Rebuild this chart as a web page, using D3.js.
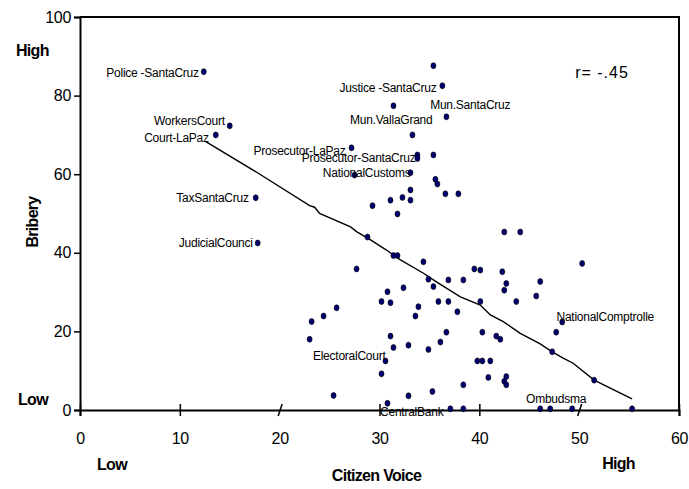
<!DOCTYPE html>
<html>
  <head>
    <meta charset="utf-8">
    <title>Bribery vs Citizen Voice</title>
    <script src="https://d3js.org/d3.v7.min.js"></script>
    <style>
     body { margin: 0; background: #fff; }
     svg { font-family: "Liberation Sans", Arial, sans-serif; }
     .tick text { font-size: 16px; fill: #000; letter-spacing: -0.3px; }
     .axis path, .axis line { stroke: #000; }
     .pt-label { font-size: 12px; letter-spacing: -0.25px; }
     .bold { font-weight: bold; font-size: 16px; letter-spacing: -0.7px; }
    </style>
  </head>
  <body>
    <svg id="chart"></svg>
    <script>
     // agencies: citizen voice (x) vs bribery (y)
     var voice = [12.4, 15.0, 13.6, 17.6, 17.8, 35.4, 36.3, 36.7, 31.4, 33.3,
                  27.2, 33.8, 33.8, 35.4, 27.5, 33.1, 35.6, 35.8, 36.6, 37.9,
                  33.1, 33.1, 32.3, 31.1, 29.3, 31.8, 28.8, 27.7, 31.4, 31.8,
                  34.4, 34.9, 35.4, 36.9, 38.4, 39.5, 40.1, 42.3, 42.5, 44.1,
                  42.7, 42.5, 46.1, 45.7, 43.7, 40.1, 37.8, 36.9, 35.9, 32.4,
                  30.8, 30.2, 31.1, 33.9, 33.6, 25.7, 24.4, 23.2, 23.0, 31.1,
                  31.4, 32.9, 34.9, 36.1, 36.7, 40.3, 41.7, 42.1, 30.6, 39.8,
                  40.3, 41.1, 30.2, 40.9, 42.7, 42.5, 42.7, 38.4, 35.3, 32.9,
                  25.4, 30.8, 37.1, 38.4, 46.1, 47.1, 49.3, 55.3, 50.3, 48.3,
                  47.7, 47.3, 51.5];
     var bribery = [86.1, 72.3, 70.0, 54.0, 42.5, 87.6, 82.5, 74.6, 77.4, 70.0,
                    66.7, 64.9, 64.0, 64.9, 59.8, 60.4, 58.7, 57.5, 55.0, 55.0,
                    56.0, 53.4, 54.1, 53.4, 52.0, 49.9, 44.0, 35.9, 39.3, 39.3,
                    37.7, 33.3, 31.4, 33.1, 33.1, 35.9, 35.6, 35.2, 45.3, 45.3,
                    32.2, 30.5, 32.7, 29.0, 27.6, 27.6, 25.0, 27.6, 27.6, 31.1,
                    30.1, 27.6, 27.3, 26.3, 23.9, 26.0, 23.9, 22.5, 18.0, 18.8,
                    15.9, 16.5, 15.4, 17.3, 19.8, 19.8, 18.8, 18.0, 12.5, 12.5,
                    12.5, 12.5, 9.2, 8.3, 8.5, 7.3, 6.4, 6.4, 4.7, 3.6,
                    3.7, 1.7, 0.3, 0.3, 0.3, 0.3, 0.3, 0.3, 37.3, 22.4,
                    19.8, 14.8, 7.6];

     // smoothed fit line
     var fitX = [12.6, 17.7, 23.0, 23.5, 24.0, 27.1, 27.7, 29.1, 30.7, 32.1,
                 34.4, 35.7, 38.1, 40.1, 41.1, 42.4, 44.1, 46.1, 47.3, 48.4,
                 49.4, 51.5, 55.3];
     var fitY = [68.3, 60.5, 52.0, 51.6, 50.0, 46.6, 45.4, 43.3, 40.7, 38.2,
                 34.8, 32.6, 28.8, 26.7, 24.2, 22.5, 19.5, 16.8, 14.8, 13.2,
                 11.9, 7.6, 2.8];

     // point labels: text, right end (x) and middle (y) in data units
     var labelText = ["Police -SantaCruz", "WorkersCourt", "Court-LaPaz", "TaxSantaCruz",
                      "JudicialCounci", "Justice -SantaCruz", "Mun.SantaCruz", "Mun.VallaGrand",
                      "Prosecutor-LaPaz", "Prosecutor-SantaCruz", "NationalCustoms",
                      "ElectoralCourt", "CentralBank", "NationalComptrolle", "Ombudsma"];
     var labelX = [11.9, 14.5, 12.9, 16.9, 17.3, 35.7, 43.1, 35.3, 26.6, 33.6, 33.1,
                   30.6, 36.4, 57.5, 50.7];
     var labelY = [85.8, 73.5, 69.2, 53.9, 42.5, 81.9, 77.6, 73.8, 65.9, 64.1, 60.3,
                   13.7, -0.5, 23.7, 2.8];

     var xTicks = [0, 10, 20, 30, 40, 50, 60];
     var yTicks = [0, 20, 40, 60, 80, 100];
     var slantTicks = [20, 50];

     var W = 689, H = 489;
     var margin = {top: 17, right: 10, bottom: 79, left: 80};
     var width = W - margin.left - margin.right,
         height = H - margin.top - margin.bottom;

     var xScale = d3.scaleLinear().domain([0, 60]).range([0, width]);
     var yScale = d3.scaleLinear().domain([0, 100]).range([height, 0]);

     var svg = d3.select("#chart").attr("width", W).attr("height", H)
                 .append("g")
                 .attr("transform", "translate(" + margin.left + "," + margin.top + ")");

     // frame (top and right)
     svg.append("path")
        .attr("d", "M0,0H" + width + "V" + height)
        .attr("fill", "none").attr("stroke", "#000").attr("stroke-width", 2);

     var yAxis = svg.append("g").attr("class", "axis")
                    .call(d3.axisLeft(yScale).tickValues(yTicks).tickSizeOuter(0).tickSize(6).tickPadding(3));
     yAxis.select(".domain").attr("stroke-width", 2);
     yAxis.selectAll(".tick line").attr("stroke-width", 1.5);

     var xAxis = svg.append("g").attr("class", "axis")
                    .attr("transform", "translate(0," + height + ")")
                    .call(d3.axisBottom(xScale).tickValues(xTicks).tickSizeOuter(0).tickSize(6).tickPadding(17));
     xAxis.select(".domain").attr("stroke-width", 2);
     xAxis.selectAll(".tick line")
          .attr("y1", -6).attr("y2", 6)
          .attr("stroke-width", 1.5)
          .filter(function(d) { return slantTicks.indexOf(d) >= 0; })
          .attr("x1", -2).attr("x2", 2).attr("y1", 6).attr("y2", -6);

     // fit line
     var line = d3.line()
                  .x(function(d, i) { return xScale(fitX[i]); })
                  .y(function(d, i) { return yScale(fitY[i]); });
     svg.append("path")
        .datum(fitX)
        .attr("d", line)
        .attr("fill", "none")
        .attr("stroke", "#000")
        .attr("stroke-width", 1.4);

     // points
     svg.selectAll(".pt")
        .data(voice)
        .enter().append("ellipse")
        .attr("class", "pt")
        .attr("cx", function(d) { return xScale(d); })
        .attr("cy", function(d, i) { return yScale(bribery[i]); })
        .attr("rx", 2.5).attr("ry", 3)
        .attr("fill", "#000070")
        .attr("stroke", "#000")
        .attr("stroke-width", 0.6);

     // labels
     svg.selectAll(".pt-label")
        .data(labelText)
        .enter().append("text")
        .attr("class", "pt-label")
        .attr("x", function(d, i) { return xScale(labelX[i]); })
        .attr("y", function(d, i) { return yScale(labelY[i]); })
        .attr("dy", "0.35em")
        .style("text-anchor", "end")
        .text(function(d) { return d; });

     svg.append("text")
        .attr("x", xScale(49.6)).attr("y", yScale(85.8)).attr("dy", "0.35em")
        .style("font-size", "16px")
        .style("letter-spacing", "1px")
        .text("r= -.45");

     // axis titles
     svg.append("text").attr("class", "bold")
        .attr("transform", "translate(" + (-42) + "," + 205 + ") rotate(-90)")
        .style("text-anchor", "middle")
        .text("Bribery");
     svg.append("text").attr("class", "bold")
        .attr("x", width / 2 - 3).attr("y", height + 71)
        .style("text-anchor", "middle")
        .text("Citizen Voice");
     svg.append("text").attr("class", "bold")
        .attr("x", -64).attr("y", 39)
        .text("High");
     svg.append("text").attr("class", "bold")
        .attr("x", -62).attr("y", height - 5)
        .text("Low");
     svg.append("text").attr("class", "bold")
        .attr("x", 17).attr("y", height + 60)
        .text("Low");
     svg.append("text").attr("class", "bold")
        .attr("x", xScale(52.3)).attr("y", height + 59)
        .text("High");
    </script>
  </body>
</html>
